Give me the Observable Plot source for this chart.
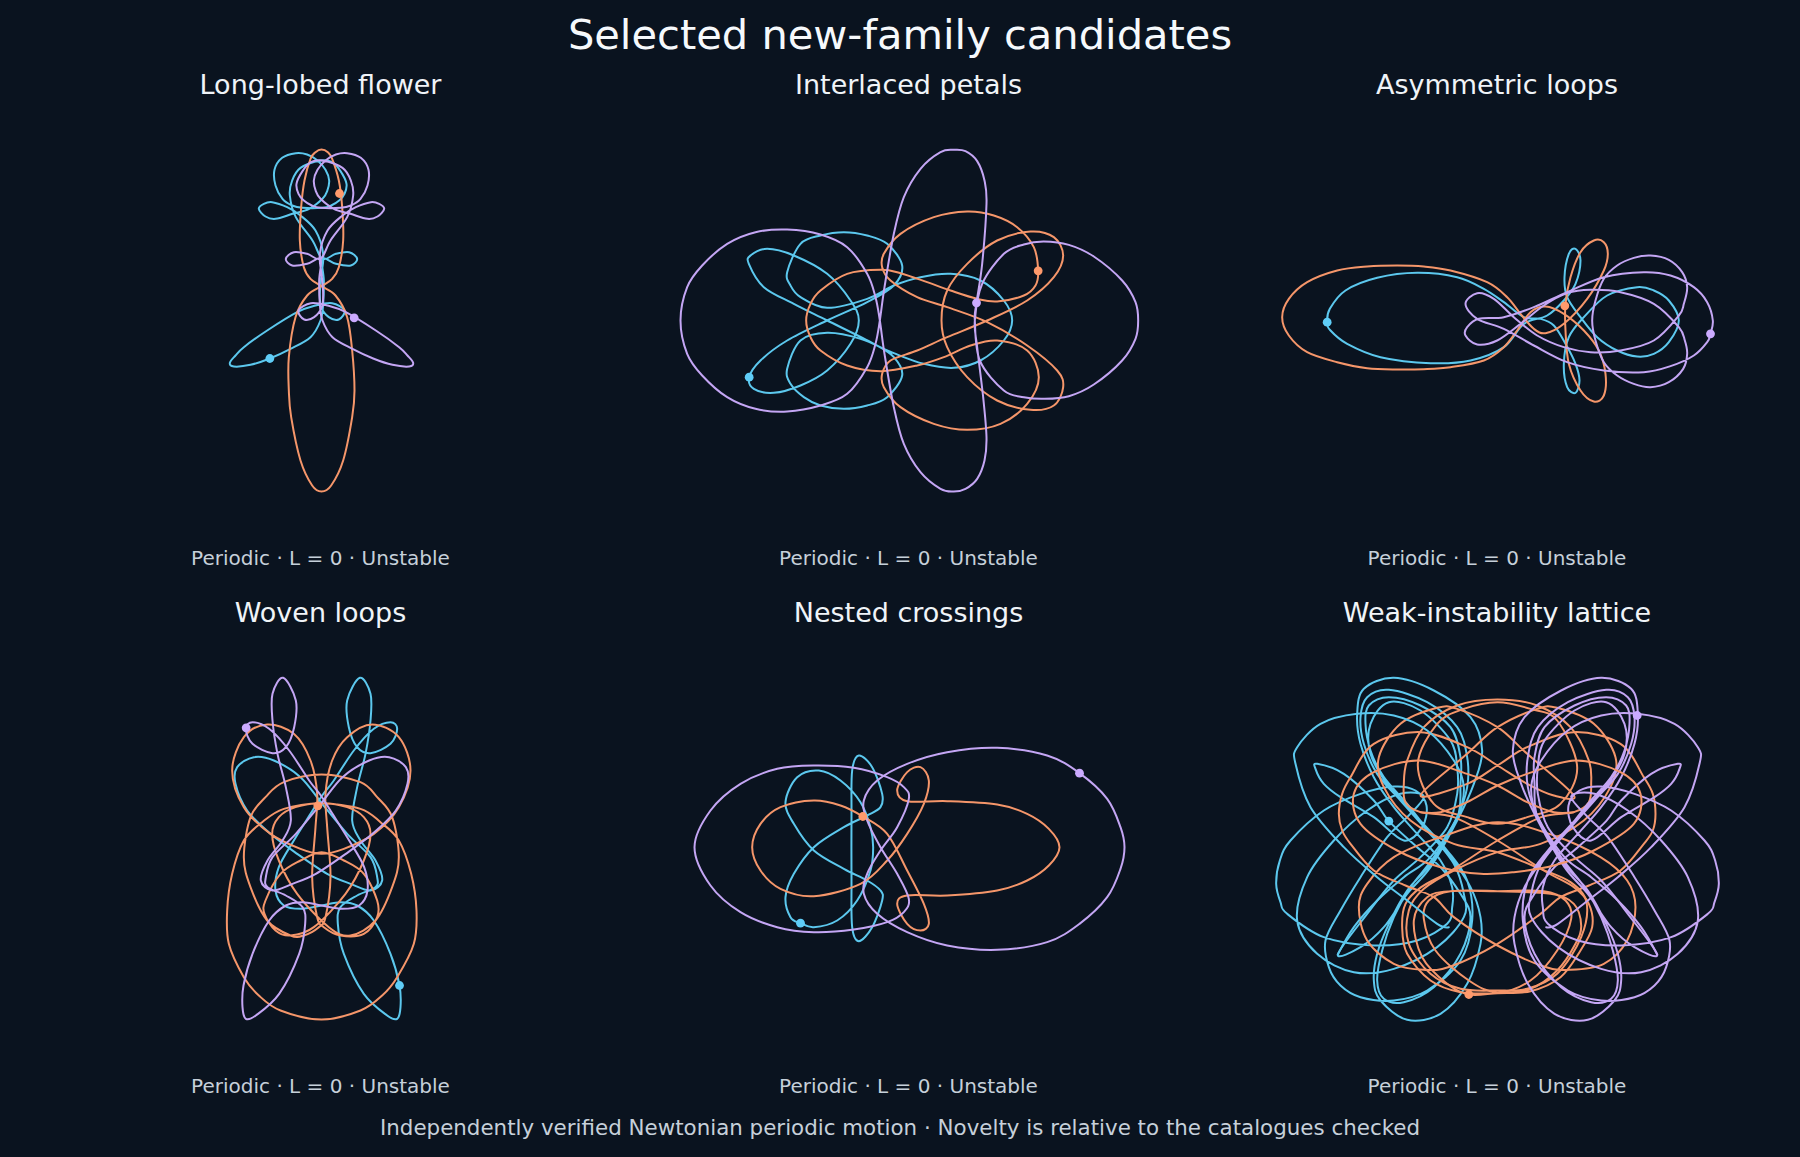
<!DOCTYPE html>
<html><head><meta charset="utf-8">
<script src="https://cdn.jsdelivr.net/npm/d3@7"></script>
<script src="https://cdn.jsdelivr.net/npm/@observablehq/plot@0.6"></script>
<style>
html,body{margin:0;padding:0;background:#0a131f;}
#page{position:relative;width:1800px;height:1157px;overflow:hidden;background:#0a131f;font-family:"DejaVu Sans",sans-serif;}
.t{position:absolute;transform:translate(-50%,-50%);white-space:nowrap;}
.main{font-size:41.6px;color:#f6f9fc;}
.pt{font-size:27px;color:#f0f4f8;}
.cap{font-size:20px;color:#c6d0da;}
.foot{font-size:21.4px;color:#c6d0da;}
#page svg{position:absolute;overflow:visible;background:transparent;}
</style></head><body><div id="page"></div>
<script>
const BLUE="#5cc8ee",ORANGE="#f5966a",PURPLE="#c4a6f4";
const BLUE_DOT="#5fcdf7",ORANGE_DOT="#ff9a6c",PURPLE_DOT="#cbaaff";

// Panel 1: Long-lobed flower
const flowerBlue=[[208,684],[270,655],[330,620],[360,570],[368,520],[370,450],[366,385],[406,400],[451,405],[470,385],[446,365],[406,370],[366,385],[336,330],[286,260],[268,195],[275,150],[300,112],[361,90],[395,95],[420,122],[438,160],[432,190],[416,210],[392,225],[366,232],[306,232],[275,225],[246,205],[225,165],[222,118],[245,82],[286,68],[320,72],[351,90],[375,118],[386,150],[380,182],[366,205],[326,235],[276,250],[225,265],[195,258],[175,235],[190,220],[215,215],[260,230],[300,255],[345,300],[368,370],[362,440],[358,490],[362,530],[385,560],[415,567],[432,540],[395,518],[345,525],[290,545],[200,600],[130,650],[105,675],[88,697],[100,708],[150,703]];
const flowerOrange=[[363,57],[382,65],[395,85],[415,150],[425,230],[428,330],[415,410],[395,445],[363,467],[320,495],[285,560],[265,680],[265,780],[272,860],[300,990],[335,1065],[363,1083],[392,1065],[428,990],[455,860],[462,780],[455,660],[440,560],[405,495],[363,467],[330,445],[310,410],[298,330],[302,230],[312,150],[330,85],[345,65]];
const flowerPurple=[[518,684],[456,655],[396,620],[366,570],[358,520],[356,450],[360,385],[320,400],[275,405],[256,385],[280,365],[320,370],[360,385],[390,330],[440,260],[458,195],[451,150],[426,112],[365,90],[331,95],[306,122],[288,160],[294,190],[310,210],[334,225],[360,232],[420,232],[451,225],[480,205],[501,165],[504,118],[481,82],[440,68],[406,72],[375,90],[351,118],[340,150],[346,182],[360,205],[400,235],[450,250],[501,265],[531,258],[551,235],[536,220],[511,215],[466,230],[426,255],[381,300],[358,370],[364,440],[368,490],[364,530],[341,560],[311,567],[294,540],[331,518],[381,525],[436,545],[526,600],[596,650],[621,675],[638,697],[626,708],[576,703]];

// Panel 2: Interlaced petals
const petalsBlue=[[266,740],[280,775],[340,787],[420,765],[500,720],[570,640],[595,570],[570,510],[500,430],[400,375],[320,355],[270,375],[265,400],[310,470],[400,520],[500,570],[640,640],[700,680],[725,735],[680,800],[620,825],[550,835],[480,825],[430,800],[390,760],[380,715],[420,630],[500,607],[600,625],[700,668],[790,700],[880,712],[960,690],[1030,630],[1055,570],[1030,510],[960,450],[870,430],[780,440],[700,465],[620,505],[500,532],[420,500],[390,465],[380,425],[420,340],[480,315],[550,305],[620,315],[680,340],[725,405],[700,465],[620,515],[500,570],[380,630],[300,690]];
const petalsOrange=[[1133,421],[1120,350],[1070,290],[1000,255],[920,243],[820,260],[720,310],[670,370],[665,410],[690,450],[770,500],[860,530],[980,575],[1100,645],[1190,720],[1208,770],[1180,825],[1110,838],[1010,810],[920,740],[860,650],[843,570],[860,480],[920,400],[1010,330],[1110,303],[1180,320],[1208,375],[1180,440],[1100,510],[980,570],[860,620],[770,660],[690,690],[665,730],[670,770],[720,830],[820,880],[920,898],[1020,880],[1100,820],[1135,740],[1100,660],[1010,630],[930,645],[850,680],[770,705],[660,722],[560,705],[480,660],[450,620],[437,570],[450,520],[480,480],[560,430],[660,418],[720,428],[800,455],[870,480],[950,505],[1010,513],[1090,495],[1125,465]];
const petalsPurple=[[948,517],[943,570],[958,690],[1030,780],[1090,800],[1150,805],[1225,797],[1300,762],[1385,690],[1425,625],[1433,570],[1425,515],[1385,450],[1300,378],[1225,343],[1150,333],[1090,342],[1030,370],[965,460],[943,570],[950,650],[968,800],[978,920],[972,990],[950,1045],[915,1075],[880,1083],[840,1075],[780,1025],[730,940],[700,830],[672,670],[658,570],[645,500],[620,430],[560,350],[480,312],[380,297],[285,305],[200,340],[125,405],[80,470],[60,570],[80,670],[125,735],[200,800],[285,835],[380,843],[480,825],[560,790],[620,710],[645,640],[658,570],[672,470],[700,310],[730,200],[780,115],[840,65],[880,58],[915,62],[950,92],[972,150],[978,220],[965,400]];

// Panel 3: Asymmetric loops
const loopsBlue=[[170,305],[178,265],[225,210],[320,172],[440,157],[560,170],[640,205],[700,245],[760,290],[810,295],[850,315],[885,370],[915,430],[927,480],[915,517],[890,500],[880,430],[895,350],[940,290],[1010,225],[1100,200],[1150,210],[1195,240],[1225,300],[1195,365],[1150,400],[1100,408],[1040,390],[980,350],[930,290],[890,230],[882,170],[895,100],[915,85],[930,120],[915,190],[880,240],[830,285],[760,310],[700,380],[600,420],[480,428],[330,410],[230,370],[180,330]];
const loopsOrange=[[35,290],[55,235],[110,185],[200,150],[290,138],[380,135],[460,138],[540,150],[650,185],[710,230],[750,280],[790,325],[825,338],[880,310],[950,235],[1000,150],[1012,100],[1000,65],[970,60],[930,95],[900,170],[885,250],[885,330],[895,430],[930,510],[970,543],[1000,525],[1005,460],[985,390],[940,330],[880,280],[825,258],[780,275],[740,330],[700,380],[640,420],[540,440],[460,446],[380,447],[290,443],[200,425],[110,395],[55,345]];
const loopsPurple=[[1320,340],[1327,300],[1310,245],[1270,200],[1200,165],[1120,155],[1000,170],[890,215],[790,260],[700,290],[625,295],[590,320],[585,345],[620,372],[680,360],[750,310],[820,255],[890,218],[960,208],[1050,215],[1150,250],[1225,320],[1243,360],[1250,400],[1238,445],[1195,485],[1140,500],[1090,490],[1040,465],[1000,425],[975,360],[965,300],[975,240],[1000,175],[1040,135],[1090,112],[1140,105],[1195,118],[1235,155],[1250,200],[1240,250],[1225,285],[1150,360],[1050,390],[960,395],[880,380],[800,345],[730,290],[670,235],[620,218],[585,250],[620,295],[700,325],[790,375],[890,425],[1000,450],[1120,455],[1200,437],[1270,405],[1310,365]];

// Panel 4: Woven loops
const wovenBlue=[[597,975],[570,880],[520,780],[470,735],[420,725],[363,735],[300,745],[250,735],[225,690],[235,620],[280,540],[330,460],[365,405],[400,360],[460,270],[520,205],[570,185],[590,205],[570,250],[510,278],[470,260],[445,200],[440,120],[478,52],[510,100],[510,180],[495,280],[470,380],[455,480],[480,540],[525,600],[545,660],[510,690],[450,670],[380,640],[290,580],[210,520],[140,450],[105,370],[110,320],[160,290],[220,300],[300,350],[365,430],[440,520],[510,590],[530,650],[525,680],[470,705],[420,740],[412,790],[430,880],[490,1000],[560,1065],[590,1075],[600,1040]];
const wovenOrange=[[200,192],[130,230],[95,330],[130,440],[210,520],[300,565],[363,580],[430,565],[520,520],[595,440],[630,330],[595,230],[515,192],[440,230],[395,300],[375,400],[380,500],[390,650],[375,770],[355,800],[310,825],[270,825],[200,780],[150,680],[130,590],[150,470],[195,410],[250,365],[363,342],[480,365],[530,410],[575,470],[595,590],[575,680],[525,780],[450,825],[385,800],[290,700],[235,600],[215,520],[235,470],[285,440],[363,428],[480,445],[540,485],[595,540],[632,640],[648,750],[640,850],[590,950],[545,1005],[480,1050],[363,1077],[240,1050],[175,1005],[130,950],[85,850],[80,750],[95,640],[130,540],[185,485],[250,445],[363,428],[440,440],[490,470],[510,520],[490,600],[435,700],[340,800],[270,825],[225,810],[192,760],[195,720],[240,640],[300,600],[363,575],[430,600],[490,640],[530,720],[530,770],[490,820],[420,825],[370,800],[350,770],[335,650],[345,500],[350,400],[330,300],[280,220]];
const wovenPurple=[[129,975],[156,880],[206,780],[256,735],[306,725],[363,735],[426,745],[476,735],[501,690],[491,620],[446,540],[396,460],[361,405],[326,360],[266,270],[206,205],[156,185],[136,205],[156,250],[216,278],[256,260],[281,200],[286,120],[248,52],[216,100],[216,180],[231,280],[256,380],[271,480],[246,540],[201,600],[181,660],[216,690],[276,670],[346,640],[436,580],[516,520],[586,450],[621,370],[616,320],[566,290],[506,300],[426,350],[361,430],[286,520],[216,590],[196,650],[201,680],[256,705],[306,740],[314,790],[296,880],[236,1000],[166,1065],[136,1075],[126,1040]];

// Panel 5: Nested crossings
const nestedBlue=[[360,578],[400,590],[470,570],[530,510],[570,420],[578,350],[570,290],[540,215],[480,150],[415,120],[350,140],[315,215],[340,280],[400,360],[490,415],[560,450],[600,480],[605,510],[575,590],[535,632],[515,590],[513,450],[513,250],[515,120],[535,75],[575,110],[605,190],[600,230],[560,255],[490,290],[400,350],[340,430],[315,500],[330,560]];
const nestedOrange=[[547,258],[620,310],[680,420],[730,520],[745,580],[720,600],[680,580],[650,520],[680,495],[800,495],[950,480],[1040,450],[1105,405],[1137,350],[1105,295],[1040,250],[950,222],[800,212],[680,212],[650,180],[680,125],[720,110],[745,150],[730,220],[680,310],[620,390],[540,460],[400,497],[300,475],[240,420],[215,350],[240,280],[300,230],[400,210],[480,225]];
const nestedPurple=[[1197,128],[1100,75],[950,52],[800,65],[680,100],[590,150],[550,210],[560,270],[600,350],[650,430],[685,505],[670,545],[620,575],[520,597],[400,605],[290,590],[180,545],[90,465],[42,350],[90,240],[180,160],[290,115],[400,105],[520,112],[620,140],[670,170],[685,205],[650,290],[600,360],[560,430],[550,490],[590,550],[680,605],[800,645],[950,658],[1100,635],[1197,580],[1280,500],[1320,415],[1332,350],[1320,290],[1280,205]];

// Panel 6: Weak-instability lattice
const latticeBlue=[[385,482],[470,560],[540,620],[600,700],[630,770],[600,880],[520,980],[430,1025],[370,1015],[350,960],[365,870],[400,770],[450,680],[520,590],[590,470],[620,380],[620,290],[590,200],[500,125],[385,88],[320,110],[300,170],[310,250],[350,340],[420,420],[500,510],[570,590],[630,680],[660,770],[660,850],[620,970],[540,1060],[440,1078],[360,1020],[340,960],[350,880],[385,790],[440,690],[510,610],[590,475],[600,370],[600,290],[570,200],[480,135],[385,110],[325,135],[315,190],[330,270],[370,350],[440,430],[510,520],[580,610],[610,700],[610,770],[530,860],[400,925],[280,935],[170,880],[110,780],[140,650],[220,540],[320,450],[420,400],[490,408],[440,470],[380,530],[300,650],[240,750],[195,840],[205,920],[240,975],[300,1010],[400,1020],[500,990],[600,900],[635,780],[620,660],[560,570],[470,470],[380,370],[330,280],[330,190],[385,125],[480,150],[570,240],[590,320],[590,400],[560,500],[480,590],[400,660],[320,760],[232,882],[300,860],[370,800],[440,700],[510,620],[590,480],[640,370],[665,270],[630,170],[520,90],[400,52],[310,85],[290,160],[300,250],[340,350],[400,440],[470,520],[540,600],[575,680],[575,740],[560,790],[470,840],[340,855],[190,830],[80,760],[60,725],[47,670],[58,600],[90,540],[190,450],[300,400],[400,378],[465,390],[498,435],[485,500],[430,540],[340,470],[240,410],[190,370],[165,325],[170,310],[250,340],[340,420]];
const latticeBlueArc=[[232,882],[280,800],[350,720],[430,650],[510,590],[590,470],[610,380],[580,300],[500,210],[400,165],[290,160],[180,190],[110,260],[105,310],[150,440],[250,560],[350,650],[440,720],[530,790],[565,800]];
const latticePurple=[[1037,482],[952,560],[882,620],[822,700],[792,770],[822,880],[902,980],[992,1025],[1052,1015],[1072,960],[1057,870],[1022,770],[972,680],[902,590],[832,470],[802,380],[802,290],[832,200],[922,125],[1037,88],[1102,110],[1122,170],[1112,250],[1072,340],[1002,420],[922,510],[852,590],[792,680],[762,770],[762,850],[802,970],[882,1060],[982,1078],[1062,1020],[1082,960],[1072,880],[1037,790],[982,690],[912,610],[832,475],[822,370],[822,290],[852,200],[942,135],[1037,110],[1097,135],[1107,190],[1092,270],[1052,350],[982,430],[912,520],[842,610],[812,700],[812,770],[892,860],[1022,925],[1142,935],[1252,880],[1312,780],[1282,650],[1202,540],[1102,450],[1002,400],[932,408],[982,470],[1042,530],[1122,650],[1182,750],[1227,840],[1217,920],[1182,975],[1122,1010],[1022,1020],[922,990],[822,900],[787,780],[802,660],[862,570],[952,470],[1042,370],[1092,280],[1092,190],[1037,125],[942,150],[852,240],[832,320],[832,400],[862,500],[942,590],[1022,660],[1102,760],[1190,882],[1122,860],[1052,800],[982,700],[912,620],[832,480],[782,370],[757,270],[792,170],[902,90],[1022,52],[1112,85],[1132,160],[1122,250],[1082,350],[1022,440],[952,520],[882,600],[847,680],[847,740],[862,790],[952,840],[1082,855],[1232,830],[1342,760],[1362,725],[1375,670],[1364,600],[1332,540],[1232,450],[1122,400],[1022,378],[957,390],[924,435],[937,500],[992,540],[1082,470],[1182,410],[1232,370],[1257,325],[1252,310],[1172,340],[1082,420]];
const latticePurpleArc=[[1190,882],[1142,800],[1072,720],[992,650],[912,590],[832,470],[812,380],[842,300],[922,210],[1022,165],[1132,160],[1242,190],[1312,260],[1317,310],[1272,440],[1172,560],[1072,650],[982,720],[892,790],[857,800]];
const latticeOrangeBottom=[[625,1002],[711,998],[810,992],[900,950],[960,870],[995,800],[985,730],[940,680],[850,630],[711,540],[580,470],[480,455],[435,425],[430,370],[440,300],[490,200],[590,135],[711,117],[830,135],[930,200],[985,300],[992,370],[985,425],[940,455],[842,470],[711,540],[572,630],[482,680],[435,730],[425,800],[440,880],[510,960],[600,995],[711,998],[810,985],[890,930],[945,850],[962,795],[940,730],[870,700],[711,692],[570,692],[505,720],[490,775],[525,870],[625,960],[711,995],[810,960],[890,870],[932,775],[915,720],[850,692],[711,692],[570,692],[500,710],[460,780],[485,890],[560,970]];
const latticeOrangeRings=[[235,460],[245,400],[270,350],[340,250],[480,215],[620,260],[711,315],[800,370],[880,405],[940,405],[800,280],[711,200],[590,145],[530,142],[420,190],[355,290],[370,380],[450,480],[580,550],[711,575],[840,625],[930,665],[978,725],[962,830],[890,940],[800,985],[711,990],[600,985],[510,940],[445,850],[445,750],[490,685],[580,630],[711,575],[840,550],[970,480],[1050,380],[1065,290],[1000,190],[890,142],[830,145],[711,200],[620,280],[480,405],[620,370],[711,315],[800,260],[940,215],[1080,250],[1150,350],[1177,400],[1185,460],[1177,510],[1150,550],[1080,630],[985,675],[900,710],[840,760],[711,850],[570,918],[490,928],[400,910],[320,840],[295,740],[320,670],[400,590],[540,530],[711,485],[880,525],[1020,590],[1100,660],[1125,740],[1100,840],[1030,910],[930,928],[850,918],[711,855],[580,770],[520,710],[435,675],[340,630],[270,550],[245,510]];
const latticeOrangeInner=[[711,125],[610,145],[530,190],[472,310],[520,430],[620,470],[711,490],[800,470],[900,430],[950,320],[890,180],[810,145]];
const latticeOrangeArc=[[940,455],[880,455],[800,425],[711,375],[620,340],[475,300],[340,335],[280,400],[300,490],[410,570],[540,620],[660,640],[760,635],[880,615],[1000,570],[1120,490],[1140,400],[1080,335],[945,300],[800,340],[711,375],[620,425],[540,455],[480,455]];

const titles=["Long-lobed flower","Interlaced petals","Asymmetric loops","Woven loops","Nested crossings","Weak-instability lattice"];
const captionText="Periodic · L = 0 · Unstable";
const mainTitle="Selected new-family candidates";
const footer="Independently verified Newtonian periodic motion · Novelty is relative to the catalogues checked";

const page=document.getElementById("page");
function label(text,cls,x,y){const d=document.createElement("div");d.className="t "+cls;d.textContent=text;d.style.left=x+"px";d.style.top=y+"px";page.appendChild(d);}
label(mainTitle,"main",900,34);
label(footer,"foot",900,1127);
const cx=[320.5,908.5,1497],ty=[84,612],cy=[558,1086];
titles.forEach((t,i)=>{const c=i%3,r=Math.floor(i/3);label(t,"pt",cx[c],ty[r]);label(captionText,"cap",cx[c],cy[r]);});

function panel(left,top,w,h,closed,open,dots){
  const marks=[];
  closed.forEach(([pts,color])=>marks.push(Plot.line(pts,{x:d=>d[0],y:d=>d[1],stroke:color,strokeWidth:2,curve:"catmull-rom-closed",tension:0})));
  open.forEach(([pts,color])=>marks.push(Plot.line(pts,{x:d=>d[0],y:d=>d[1],stroke:color,strokeWidth:2,curve:"catmull-rom",tension:0})));
  dots.forEach(([pt,color])=>marks.push(Plot.dot([pt],{x:d=>d[0],y:d=>d[1],fill:color,r:4.4})));
  const svg=Plot.plot({width:w,height:h,margin:0,
    x:{domain:[0,w*3],axis:null},y:{domain:[h*3,0],axis:null},style:{background:"transparent"},marks});
  svg.style.left=left+"px";svg.style.top=top+"px";page.appendChild(svg);
}
panel(200,130,240,370,[[flowerBlue,BLUE],[flowerOrange,ORANGE],[flowerPurple,PURPLE]],[],
  [[[208,684],BLUE_DOT],[[417,189],ORANGE_DOT],[[461,562],PURPLE_DOT]]);
panel(660,130,480,370,[[petalsBlue,BLUE],[petalsOrange,ORANGE],[petalsPurple,PURPLE]],[],
  [[[266,740],BLUE_DOT],[[1133,421],ORANGE_DOT],[[948,517],PURPLE_DOT]]);
panel(1270,220,460,200,[[loopsBlue,BLUE],[loopsOrange,ORANGE],[loopsPurple,PURPLE]],[],
  [[[170,305],BLUE_DOT],[[883,256],ORANGE_DOT],[[1320,340],PURPLE_DOT]]);
panel(200,660,240,370,[[wovenBlue,BLUE],[wovenOrange,ORANGE],[wovenPurple,PURPLE]],[],
  [[[597,975],BLUE_DOT],[[352,436],ORANGE_DOT],[[137,202],PURPLE_DOT]]);
panel(680,730,460,230,[[nestedBlue,BLUE],[nestedOrange,ORANGE],[nestedPurple,PURPLE]],[],
  [[[360,578],BLUE_DOT],[[547,258],ORANGE_DOT],[[1197,128],PURPLE_DOT]]);
panel(1260,660,480,370,[[latticeBlue,BLUE],[latticeOrangeBottom,ORANGE],[latticeOrangeRings,ORANGE],[latticeOrangeInner,ORANGE],[latticePurple,PURPLE]],
  [[latticeBlueArc,BLUE],[latticeOrangeArc,ORANGE],[latticePurpleArc,PURPLE]],
  [[[385,482],BLUE_DOT],[[625,1002],ORANGE_DOT],[[1130,165],PURPLE_DOT]]);
</script></body></html>
